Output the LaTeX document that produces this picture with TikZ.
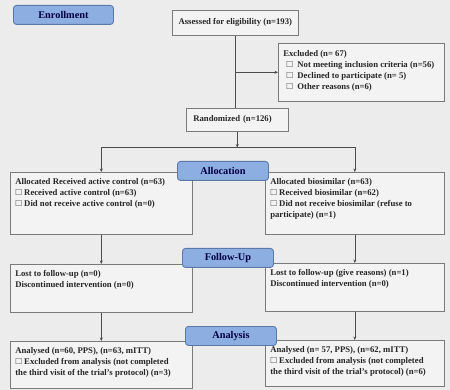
\documentclass[tikz,border=0pt]{standalone}
\usepackage{amssymb}
\usepackage{fontspec}
\setmainfont{Liberation Serif}
\usetikzlibrary{arrows.meta}
\definecolor{labfill}{HTML}{8DAEE0}
\definecolor{labdraw}{HTML}{5A78A8}
\definecolor{boxdraw}{HTML}{7A7A7A}
\definecolor{bgcol}{HTML}{ECECEC}
\definecolor{boxfill}{HTML}{F3F3F3}
\newcommand{\bx}{$\square$\ }

\begin{document}
\begin{tikzpicture}[x=1pt,y=-1pt,
  every node/.style={inner sep=0pt, font=\fontsize{8.7}{11}\selectfont\bfseries, text=black!85},
  stage/.style={draw=labdraw, fill=labfill, rounded corners=3pt, line width=0.9pt,
    minimum width=91pt, minimum height=19pt, anchor=north west,
    font=\fontsize{10.3}{11}\selectfont\bfseries, text=black!75!blue},
  box/.style={draw=boxdraw, fill=boxfill, line width=0.6pt, inner xsep=5pt, inner ysep=6pt,
    anchor=north west, align=left},
  link/.style={draw=black!70, line width=0.6pt},
  arr/.style={link, -{Stealth[length=3.5pt,width=3pt]}}]
\fill[bgcol] (0,0) rectangle (450,390);
% enrolment
\node[stage, minimum width=100pt] (enrol) at (13,5) {Enrollment};
\node[box, minimum width=126pt, minimum height=25pt, inner ysep=0pt, align=center] (assess) at (172,10) {Assessed for eligibility (n=193)};
\node[box, inner ysep=7pt] (excl) at (278,43) {\parbox[t][44pt][t]{156pt}{\raggedright Excluded (n= 67)\\
  \hspace*{3pt}\bx\ Not meeting inclusion criteria (n=56)\\
  \hspace*{3pt}\bx\ Declined to participate (n= 5)\\
  \hspace*{3pt}\bx\ Other reasons (n=6)}};
\node[box, inner xsep=7pt, inner ysep=0pt, text width=88pt, minimum height=23pt] (rand) at (186,108) {Randomized (n=126)};
% allocation
\node[box] (allocL) at (10,172) {\parbox[t][50pt][t]{172pt}{\raggedright Allocated Received active control (n=63)\\
  \bx Received active control (n=63)\\
  \bx Did not receive active control (n=0)}};
\node[box] (allocR) at (265,172) {\parbox[t][50pt][t]{169pt}{\raggedright Allocated biosimilar (n=63)\\
  \bx Received biosimilar (n=62)\\
  \bx Did not receive biosimilar (refuse to\\ participate) (n=1)}};
% follow-up
\node[box] (followL) at (10,264) {\parbox[t][36pt][t]{172pt}{\raggedright Lost to follow-up (n=0)\\
  Discontinued intervention (n=0)}};
\node[box] (followR) at (265,263) {\parbox[t][36pt][t]{169pt}{\raggedright Lost to follow-up (give reasons) (n=1)\\
  Discontinued intervention (n=0)}};
% analysis
\node[box] (analyL) at (10,341) {\parbox[t][35pt][t]{172pt}{\raggedright Analysed (n=60, PPS), (n=63, mITT)\\
  \bx Excluded from analysis (not completed\\ the third visit of the trial's protocol) (n=3)}};
\node[box] (analyR) at (265,340) {\parbox[t][34pt][t]{169pt}{\raggedright Analysed (n= 57, PPS), (n=62, mITT)\\
  \bx Excluded from analysis (not completed\\ the third visit of the trial's protocol) (n=6)}};
% stage labels
\node[stage] (alloc) at (177,161) {Allocation};
\node[stage] (follow) at (182,248) {Follow-Up};
\node[stage] (analy) at (185,326) {Analysis};
% connectors
\draw[link] (assess.south) -- (assess.south |- rand.north);
\draw[arr] (assess.south |- excl.west) -- (excl.west);
\path (rand.south) ++(0,16) coordinate (fork);
\draw[arr] (rand.south) -- (fork);
\draw[arr] (fork) -| (allocL.north);
\draw[arr] (fork) -| (allocR.north);
\draw[arr] (allocL.south) -- (followL.north);
\draw[arr] (allocR.south) -- (followR.north);
\draw[arr] (followL.south) -- (analyL.north);
\draw[arr] (followR.south) -- (analyR.north);
\end{tikzpicture}
\end{document}
